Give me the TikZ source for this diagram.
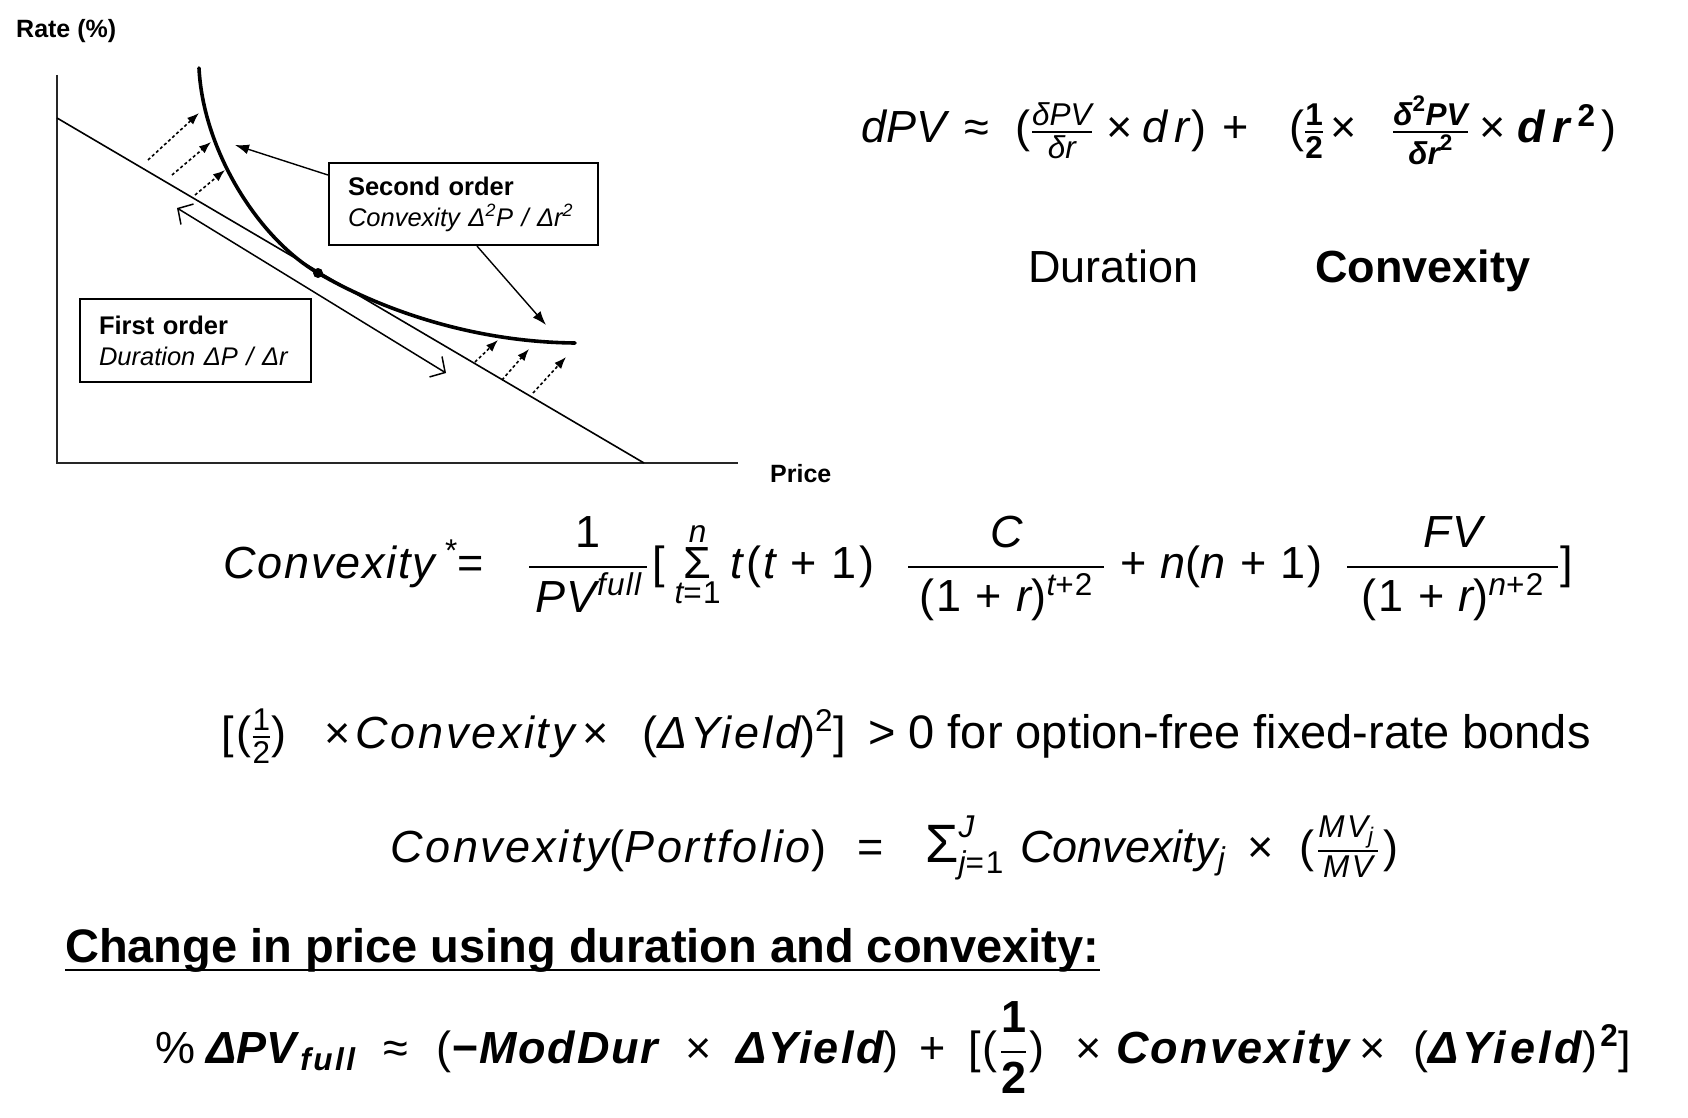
\RequirePackage{fix-cm}
\documentclass[tikz,border=0pt]{standalone}
\usepackage{fontspec}
\usepackage{amsmath}
\setmainfont{Liberation Sans}
\newfontfamily\mfA{Liberation Sans}[LetterSpace=4]
\newfontfamily\mfB{Liberation Sans}[LetterSpace=6]
\newfontfamily\mfC{Liberation Sans}[LetterSpace=8]
\newfontfamily\mfF{Liberation Sans}[LetterSpace=5]
\usetikzlibrary{arrows.meta}
\newcommand\fsLab{\fontsize{25}{30}\selectfont}
\newcommand\fsBox{\fontsize{25.5}{31}\selectfont}
\newcommand\fsF{\fontsize{45}{54}\selectfont}
\newcommand\ui[1]{{\upshape\mdseries #1}}
\newcommand\tfr[2]{\genfrac{}{}{1.8pt}{1}{#1}{#2}}
\newcommand\dfr[2]{\genfrac{}{}{1.8pt}{0}{#1}{#2}}
\tikzset{
  fml/.style={inner sep=0pt, anchor=base west, font=\fsF},
  fmx/.style={inner sep=0pt, anchor=base west, font=\fsF#1},
  lab/.style={inner sep=0pt, font=\fsLab\bfseries},
  boxed/.style={draw, line width=2.2pt, align=left, font=\fsBox, inner ysep=0pt},
  axisline/.style={line width=2pt, draw=black!85},
  tanline/.style={line width=1.6pt},
  curveline/.style={line width=3.6pt, line cap=round},
  dotarrow/.style={line width=1.6pt, dash pattern=on 3pt off 2.5pt, -{Latex[length=12pt,width=9pt]}},
  callout/.style={line width=1.4pt, -{Latex[length=14pt,width=10pt]}},
  dblarrow/.style={line width=1.5pt, {Straight Barb[length=11pt,width=24pt,line width=1.5pt]}-{Straight Barb[length=11pt,width=24pt,line width=1.5pt]}},
  tdot/.style={circle, fill=black, inner sep=0pt, minimum size=10pt}
}
\begin{document}
\begin{tikzpicture}[x=1pt, y=-1pt]
\useasboundingbox (0,0) rectangle (1688,1118);
\fill[white] (0,0) rectangle (1688,1118);

% ---------- chart ----------
\node[lab, anchor=base west] (rate) at (16,38) {Rate (\%)};
\node[lab, anchor=base west] (price) at (770,482) {Price};

\coordinate (ya) at (57,75);
\coordinate (orig) at (57,463);
\coordinate (xa) at (738,463);
\draw[axisline] (ya) -- (orig) -- (xa);

\coordinate (t0) at (57,118);
\coordinate (t1) at (644,463);
\draw[tanline] (t0) -- (t1);

\coordinate (c0) at (199,68);
\coordinate (c1) at (575,343);
\node[tdot] (tp) at (318,273) {};
\draw[curveline] (c0) .. controls (203,150) and (258,238) .. (tp.center) .. controls (378,308) and (470,342) .. (c1);

% double arrow
\coordinate (d0) at (177,208);
\coordinate (d1) at (446,373);
\draw[dblarrow] (d0) -- (d1);

% dotted arrows
\coordinate (u1a) at (148,160); \coordinate (u1b) at (199,113);
\coordinate (u2a) at (172,175); \coordinate (u2b) at (211,142);
\coordinate (u3a) at (195,195); \coordinate (u3b) at (225,170);
\coordinate (l1a) at (475,362); \coordinate (l1b) at (498,340);
\coordinate (l2a) at (502,380); \coordinate (l2b) at (529,349);
\coordinate (l3a) at (533,393); \coordinate (l3b) at (566,357);
\draw[dotarrow] (u1a) -- (u1b);
\draw[dotarrow] (u2a) -- (u2b);
\draw[dotarrow] (u3a) -- (u3b);
\draw[dotarrow] (l1a) -- (l1b);
\draw[dotarrow] (l2a) -- (l2b);
\draw[dotarrow] (l3a) -- (l3b);

% boxes
\node[boxed, minimum width=269pt, minimum height=82pt, text width=231pt, inner xsep=19pt] (so) at (463.5,204)
  {\textbf{Second order}\\\textit{Convexity Δ\textsuperscript{2}P / Δr\textsuperscript{2}}};
\node[boxed, minimum width=231pt, minimum height=83pt, text width=193pt, inner xsep=19pt] (fo) at (195.5,340.5)
  {\textbf{First order}\\\textit{Duration ΔP / Δr}};

\coordinate (s1e) at (235,145);
\coordinate (s2e) at (546,325);
\draw[callout] ([yshift=29pt]so.west) -- (s1e);
\draw[callout] ([xshift=13.5pt]so.south) -- (s2e);

% ---------- dPV formula ----------
\node[fml] (f1a) at (861,143) {\itshape dPV};
\node[fml] (f1b) at (964,143) {≈\hspace{27pt}($\tfr{\text{\itshape δPV}}{\text{\itshape δr}}$\hspace{14pt}×\hspace{9pt}\textit{d\,r})};
\node[fml] (f1c) at (1222,143) {+};
\node[fml] (f1d) at (1289,143) {($\tfr{\text{\bfseries 1}}{\text{\bfseries 2}}$\hspace{6pt}×};
\node[fml] (f1e) at (1392,143) {$\tfr{\text{\bfseries\itshape δ}^{\text{\bfseries 2}}\text{\bfseries\itshape PV}}{\text{\bfseries\itshape δr}^{\text{\bfseries 2}}}$};
\node[fml] (f1f) at (1479,143) {×\hspace{12pt}\textbf{\itshape d\,r\,}$^{\text{\bfseries 2}}$\hspace{6pt})};

\node[fml] (dur) at (1028,282) {Duration};
\node[fml] (cvx) at (1315,282) {\bfseries Convexity};

% ---------- Convexity* formula ----------
\node[fmx={\mfA\itshape}] (f2a) at (223,578) {Convexity\hspace{10pt}$^{\text{\upshape *}}$\ui{=}};
\node[fmx={\mfA\itshape}] (f2b) at (528,578) {$\dfr{\text{\upshape 1}}{\makebox[118pt]{\text{PV}$^{\text{full}}$}}$};
\node[fmx={\mfA\itshape}] (f2c) at (652,578) {\ui{[}\hspace{10pt}$\mathop{\text{\upshape Σ}}\limits^{\text{n}}_{\text{t}\text{\upshape =1}}$\hspace{10pt}t\hspace{3pt}\ui{(}\hspace{2pt}t\hspace{15pt}\ui{+}\hspace{15pt}\ui{1}\hspace{3pt}\ui{)}};
\node[fmx={\mfA\itshape}] (f2d) at (907,578) {$\dfr{\text{C}}{\makebox[196pt]{\text{\upshape (1 + }\text{r}\text{\upshape )}$^{\text{t}\text{\upshape +2}}$}}$};
\node[fmx={\mfA\itshape}] (f2e) at (1120,578) {\ui{+} n\ui{(}n \ui{+ 1)}};
\node[fmx={\mfA\itshape}] (f2f) at (1346,578) {$\dfr{\text{FV}}{\makebox[211pt]{\text{\upshape (1 + }\text{r}\text{\upshape )}$^{\text{n}\text{\upshape +2}}$}}$};
\node[fmx={\mfA\itshape}] (f2g) at (1560,578) {\ui{]}};

% ---------- positivity line ----------
\node[fmx={\mfB\itshape}] (f3a) at (221,748) {\ui{[(}$\tfr{\text{\upshape 1}}{\text{\upshape 2}}$\ui{)}};
\node[fmx={\mfB\itshape}] (f3b) at (324,748) {\ui{×}\hspace{5pt}Convexity\,\ui{×}};
\node[fmx={\mfB\itshape}] (f3c) at (642,748) {\ui{(}ΔYield\ui{)}$^{\text{\upshape 2}}$\ui{]}};
\node[fml, font=\fontsize{47}{56}\selectfont] (f3d) at (868,748) {> 0 for option-free fixed-rate bonds};

% ---------- portfolio ----------
\node[fmx={\mfB\itshape}] (f4a) at (390,862) {Convexity\ui{(}Portfolio\ui{)}};
\node[fmx={\mfB\itshape}] (f4b) at (857,862) {\ui{=}};
\node[fmx={\mfB\itshape}] (f4c) at (925,862) {$\text{\upshape\fontsize{54}{60}\selectfont Σ}^{\text{J}}_{\text{j}\text{\upshape =1}}$};
\node[fmx={\itshape}] (f4d) at (1020,862) {Convexity$_{\text{j}}$};
\node[fmx={\itshape}] (f4e) at (1247,862) {\ui{×}};
\node[fmx={\mfC\itshape}] (f4f) at (1299,862) {\ui{(}\hspace{3pt}$\tfr{\text{MV}_{\text{j}}\hspace{4pt}}{\text{MV}}$\hspace{5pt}\ui{)}};

% ---------- heading ----------
\node[inner sep=0pt, anchor=base west, font=\fontsize{47}{56}\selectfont\bfseries] (head) at (65,962)
 {Change in price using duration and convexity:};
\draw[line width=2.6pt] ([yshift=-8pt]head.base west) -- ([yshift=-8pt]head.base east);

% ---------- price change ----------
\node[fmx={\mfF\bfseries\itshape}] (f5a) at (155,1063) {\ui{\%}};
\node[fmx={\bfseries\itshape}] (f5b) at (206,1063) {ΔPV\hspace{4pt}$_{\text{\mfC full}}$};
\node[fmx={\mfF\bfseries\itshape}] (f5c) at (383,1063) {\ui{≈}};
\node[fmx={\mfA\bfseries\itshape}] (f5d) at (436,1063) {\ui{(}−ModDur};
\node[fmx={\mfF\bfseries\itshape}] (f5e) at (685,1063) {\ui{×}};
\node[fmx={\mfF\bfseries\itshape}] (f5f) at (736,1063) {ΔYield\ui{)}};
\node[fmx={\mfF\bfseries\itshape}] (f5g) at (919,1063) {\ui{+}};
\node[fmx={\mfF\bfseries\itshape}] (f5h) at (968,1063) {\ui{[(}\hspace{2pt}$\dfr{\text{\upshape 1}}{\text{\upshape 2}}$\hspace{2pt}\ui{)}};
\node[fmx={\mfF\bfseries\itshape}] (f5i) at (1075,1063) {\ui{×}};
\node[fmx={\mfF\bfseries\itshape}] (f5j) at (1116,1063) {Convexity};
\node[fmx={\mfF\bfseries\itshape}] (f5k) at (1359,1063) {\ui{×}};
\node[fmx={\mfC\bfseries\itshape}] (f5l) at (1413,1063) {\ui{(}ΔYield\ui{)}\hspace{3pt}$^{\text{\upshape 2}}$\ui{]}};
\end{tikzpicture}
\end{document}
